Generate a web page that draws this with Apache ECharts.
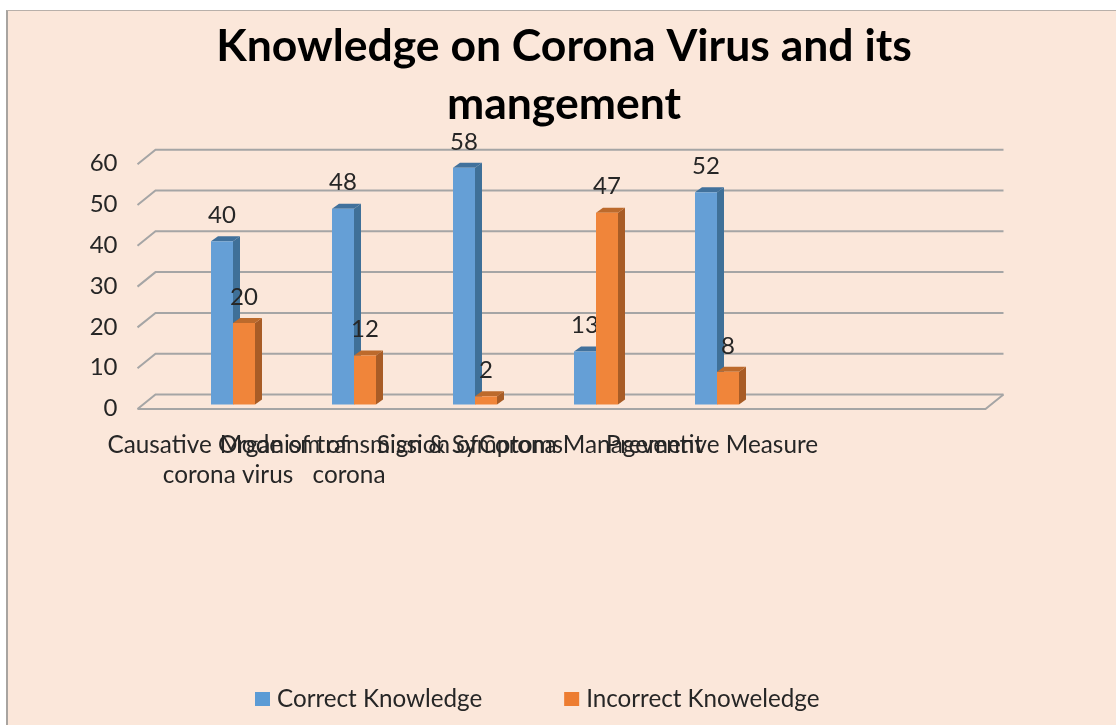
<!DOCTYPE html>
<html>
<head>
<meta charset="utf-8">
<style>
  html, body { margin: 0; padding: 0; background: #fff; }
  #panel { position: absolute; left: 6px; top: 10px; right: 0; bottom: 0; background: #fbe7da; border-left: 2px solid #a8a4a0; border-top: 1px solid #b8b0aa; }
  #chart { position: absolute; left: 0; top: 0; width: 1116px; height: 725px; }
</style>
</head>
<body>
<div id="panel"></div>
<div id="chart"></div>
<script src="https://cdn.jsdelivr.net/npm/echarts@6/dist/echarts.min.js"></script>
<script>
const categories = [
  'Causative Organism of\ncorona virus',
  'Mode of transmission of\ncorona',
  'Sign & Symptoms',
  'Corona Management',
  'Preventive Measure',
  '',
  ''
];
const correctKnowledge = [40, 48, 58, 13, 52];
const incorrectKnowledge = [20, 12, 2, 47, 8];
const yTicks = [0, 10, 20, 30, 40, 50, 60];

const FONT = 'Lato';
const TEXT = '#262626';
const BAR_W = 22;
const DEPTH_X = 7;
const DEPTH_Y = 5;

// back wall + floor lines of the fake 3d box
function renderWall(params, api) {
  const p = api.coord([0, api.value(0)]);
  const bandW = api.size([1, 0])[0];
  const left = p[0] - bandW / 2;
  const right = left + bandW * 7;
  const style = { stroke: '#a5a5a5', lineWidth: 2, fill: null };
  const line = {
    type: 'polyline',
    shape: { points: [[left - 30, p[1] + 4.5], [left - 12, p[1] - 10], [right - 11, p[1] - 10]] },
    style: style
  };
  if (api.value(0) !== 0) return line;
  return {
    type: 'group',
    children: [line, {
      type: 'polyline',
      shape: { points: [[left - 30, p[1] + 4.5], [right - 29, p[1] + 4.5], [right - 11, p[1] - 10]] },
      style: style
    }]
  };
}

function barRenderer(shift, front, top, side) {
  return function (params, api) {
    const pt = api.coord([api.value(0), api.value(1)]);
    const base = api.coord([api.value(0), 0]);
    const x0 = pt[0] + shift;
    const x1 = x0 + BAR_W;
    const yT = pt[1];
    const yB = base[1];
    return {
      type: 'group',
      children: [
        { type: 'polygon', shape: { points: [[x1, yT], [x1 + DEPTH_X, yT - DEPTH_Y], [x1 + DEPTH_X, yB - DEPTH_Y], [x1, yB]] }, style: { fill: side } },
        { type: 'polygon', shape: { points: [[x0, yT], [x0 + DEPTH_X, yT - DEPTH_Y], [x1 + DEPTH_X, yT - DEPTH_Y], [x1, yT]] }, style: { fill: top } },
        { type: 'rect', shape: { x: x0, y: yT, width: BAR_W, height: yB - yT }, style: { fill: front } },
        {
          type: 'text',
          x: x0 + BAR_W / 2,
          y: yT - 26,
          style: { text: String(api.value(1)), fill: TEXT, font: '24px ' + FONT, align: 'center', verticalAlign: 'middle' }
        }
      ]
    };
  };
}

const chart = echarts.init(document.getElementById('chart'), null, { renderer: 'canvas' });
chart.setOption({
  animation: false,
  backgroundColor: 'transparent',
  title: {
    text: 'Knowledge on Corona Virus and its\nmangement',
    left: 559,
    top: 13,
    textAlign: 'center',
    textStyle: { fontFamily: FONT, fontWeight: 'bold', fontSize: 44.5, lineHeight: 58, color: '#000' }
  },
  grid: { left: 167.5, top: 159.7, width: 847, height: 244.8 },
  legend: {
    left: 250,
    top: 682,
    itemWidth: 15,
    itemHeight: 14,
    itemGap: 82,
    icon: 'rect',
    data: ['Correct Knowledge', 'Incorrect Knoweledge'],
    textStyle: { fontFamily: FONT, fontSize: 24.2, color: TEXT, padding: [0, 0, 0, 2] }
  },
  xAxis: {
    type: 'category',
    data: categories,
    axisLine: { show: false },
    axisTick: { show: false },
    axisLabel: { interval: 0, margin: 26, fontFamily: FONT, fontSize: 24.3, lineHeight: 30, color: TEXT, hideOverlap: false }
  },
  yAxis: {
    type: 'value',
    min: 0,
    max: 60,
    interval: 10,
    axisLine: { show: false },
    axisTick: { show: false },
    splitLine: { show: false },
    axisLabel: { margin: 50, fontFamily: FONT, fontSize: 24, color: TEXT, verticalAlign: 'top', lineHeight: 8 }
  },
  series: [
    {
      type: 'custom',
      name: 'wall',
      renderItem: renderWall,
      data: yTicks.map(v => [v]),
      encode: { y: 0 },
      clip: false,
      silent: true,
      z: 1
    },
    {
      type: 'custom',
      name: 'Correct Knowledge',
      renderItem: barRenderer(-17, '#659fd6', '#41719c', '#3f7098'),
      data: correctKnowledge.map((v, i) => [i, v]),
      encode: { x: 0, y: 1 },
      itemStyle: { color: '#5b9bd5' },
      clip: false,
      z: 2
    },
    {
      type: 'custom',
      name: 'Incorrect Knoweledge',
      renderItem: barRenderer(5, '#f0853a', '#bc6a2c', '#a85c26'),
      data: incorrectKnowledge.map((v, i) => [i, v]),
      encode: { x: 0, y: 1 },
      itemStyle: { color: '#ed7d31' },
      clip: false,
      z: 3
    }
  ]
});
</script>
</body>
</html>
